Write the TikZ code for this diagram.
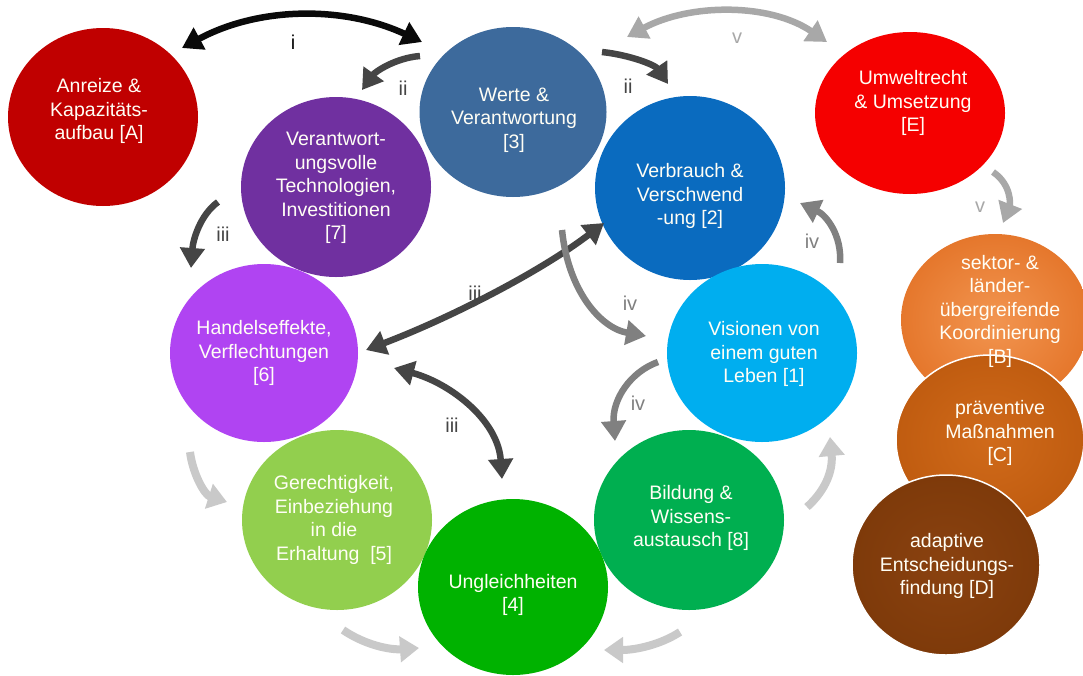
\documentclass[tikz,border=0pt]{standalone}
\usepackage{fontspec}
\setmainfont{Liberation Sans}
\usetikzlibrary{arrows.meta,shapes.geometric}
\definecolor{cA}{HTML}{C00000}
\definecolor{cThree}{HTML}{3D6A9C}
\definecolor{cSeven}{HTML}{7030A0}
\definecolor{cTwo}{HTML}{0A6BBF}
\definecolor{cE}{HTML}{F50000}
\definecolor{cSix}{HTML}{B044F2}
\definecolor{cOne}{HTML}{00AEEF}
\definecolor{cFive}{HTML}{92CF4E}
\definecolor{cFour}{HTML}{00B200}
\definecolor{cEight}{HTML}{00AF50}
\definecolor{cBin}{HTML}{F29550}
\definecolor{cBout}{HTML}{E5772C}
\definecolor{cCin}{HTML}{D06A1A}
\definecolor{cCout}{HTML}{C05C10}
\definecolor{cDin}{HTML}{8A4210}
\definecolor{cDout}{HTML}{7E3A0A}
\definecolor{aBlack}{HTML}{0A0A0A}
\definecolor{aDark}{HTML}{454545}
\definecolor{aMid}{HTML}{808080}
\definecolor{aLight}{HTML}{A8A8A8}
\definecolor{aPale}{HTML}{C9C9C9}
\begin{document}
\begin{tikzpicture}[x=1pt,y=-1pt,
  bub/.style={ellipse, inner sep=0pt, minimum width=190pt, minimum height=178pt},
  txt/.style={text=white!96!yellow, align=center, inner sep=0pt, font=\fontsize{19.5}{23.5}\selectfont},
  arr/.style={line width=6.5pt, -{Triangle[length=20pt,width=24pt]}},
  darr/.style={line width=6.5pt, {Triangle[length=20pt,width=24pt]}-{Triangle[length=20pt,width=24pt]}},
  parr/.style={line width=8pt, -{Triangle[length=19pt,width=25pt]}},
  lab/.style={font=\fontsize{20}{22}\selectfont}
]
\useasboundingbox[fill=white] (0,0) rectangle (1083,675);

% bubbles
\node[bub, fill=cA] (nA) at (103,117) {};
\node[bub, fill=cSeven, minimum height=180pt] (n7) at (336,187) {};
\node[bub, fill=cThree, minimum width=187pt, minimum height=170pt] (n3) at (513,112) {};
\node[bub, fill=cTwo, minimum height=184pt] (n2) at (690,188) {};
\node[bub, fill=cE, minimum height=162pt] (nE) at (910,113) {};
\node[bub, fill=cSix, minimum width=188pt] (n6) at (264,353) {};
\node[bub, fill=cOne] (n1) at (762,353) {};
\node[bub, fill=cFive, minimum height=180pt] (n5) at (337,520) {};
\node[bub, fill=cEight, minimum height=180pt] (n8) at (689,520) {};
\node[bub, fill=cFour, minimum height=176pt] (n4) at (513,587) {};
\node[bub, inner color=cBin, outer color=cBout, minimum width=188pt, minimum height=172pt] (nB) at (995,320) {};
\node[bub, inner color=cCin, outer color=cCout, minimum width=188pt, minimum height=170pt] (nC) at (990,440) {};
\draw[white, line width=1.5pt] (nC) ellipse (94pt and 85pt);
\node[bub, inner color=cDin, outer color=cDout, minimum width=188pt, minimum height=180pt] (nD) at (946,565) {};
\draw[white, line width=1.5pt] (nD) ellipse (94pt and 90pt);

% texts
\node[txt] (tA) at (99,111) {Anreize \&\\Kapazitäts-\\aufbau [A]};
\node[txt] (t7) at (336,188) {Verantwort-\\ungsvolle\\Technologien,\\Investitionen\\{[7]}};
\node[txt] (t3) at (514,120) {Werte \&\\Verantwortung\\{[3]}};
\node[txt] (t2) at (690,196) {Verbrauch \&\\Verschwend\\-ung [2]};
\node[txt] (tE) at (913,103) {Umweltrecht\\\& Umsetzung\\{[E]}};
\node[txt] (t6) at (264,353) {Handelseffekte,\\Verflechtungen\\{[6]}};
\node[txt] (t1) at (764,354) {Visionen von\\einem guten\\Leben [1]};
\node[txt] (t5) at (334,520) {Gerechtigkeit,\\Einbeziehung\\in die\\Erhaltung~~[5]};
\node[txt] (t8) at (691,518) {Bildung \&\\Wissens-\\austausch [8]};
\node[txt] (t4) at (513,595) {Ungleichheiten\\{[4]}};
\node[txt] (tB) at (1000,311) {sektor- \&\\länder-\\übergreifende\\Koordinierung\\{[B]}};
\node[txt] (tC) at (1000,433) {präventive\\Maßnahmen\\{[C]}};
\node[txt] (tD) at (947,566) {adaptive\\Entscheidungs-\\findung [D]};

% arrow end points
\coordinate (i1) at (182,48);  \coordinate (i2) at (422,42);
\coordinate (iiL1) at (420,56); \coordinate (iiL2) at (362,90);
\coordinate (iiR1) at (602,52); \coordinate (iiR2) at (668,84);
\coordinate (vT1) at (627,37);  \coordinate (vT2) at (827,42);
\coordinate (vR1) at (993,172); \coordinate (vR2) at (1003,223);
\coordinate (iiiA1) at (218,202); \coordinate (iiiA2) at (191,268);
\coordinate (iiiB1) at (366,350); \coordinate (iiiB2) at (604,223);
\coordinate (iiiC1) at (394,368); \coordinate (iiiC2) at (502,479);
\coordinate (ivA1) at (562,230); \coordinate (ivA2) at (646,336);
\coordinate (ivB1) at (840,263); \coordinate (ivB2) at (800,203);
\coordinate (ivC1) at (658,362); \coordinate (ivC2) at (615,441);
\coordinate (pA1) at (190,452); \coordinate (pA2) at (227,502);
\coordinate (pB1) at (343,630); \coordinate (pB2) at (419,648);
\coordinate (pC1) at (680,632); \coordinate (pC2) at (604,650);
\coordinate (pD1) at (807,507); \coordinate (pD2) at (830,437);

% arrows
\draw[darr, aBlack] (i1) .. controls (260,6) and (345,6) .. (i2);
\draw[arr, aDark] (iiL1) .. controls (395,58) and (375,72) .. (iiL2);
\draw[arr, aDark] (iiR1) .. controls (630,55) and (655,65) .. (iiR2);
\draw[darr, aLight] (vT1) .. controls (690,3) and (770,3) .. (vT2);
\draw[arr, aLight] (vR1) .. controls (1012,185) and (1010,205) .. (vR2);
\draw[arr, aDark] (iiiA1) .. controls (200,215) and (193,240) .. (iiiA2);
\draw[darr, aDark] (iiiB1) .. controls (450,318) and (540,272) .. (iiiB2);
\draw[darr, aDark] (iiiC1) .. controls (450,383) and (498,420) .. (iiiC2);
\draw[arr, aMid] (ivA1) .. controls (568,290) and (600,328) .. (ivA2);
\draw[arr, aMid] (ivB1) .. controls (842,235) and (826,215) .. (ivB2);
\draw[arr, aMid] (ivC1) .. controls (630,372) and (612,400) .. (ivC2);
\draw[parr, aPale] (pA1) .. controls (193,475) and (205,495) .. (pA2);
\draw[parr, aPale] (pB1) .. controls (365,645) and (390,650) .. (pB2);
\draw[parr, aPale] (pC1) .. controls (660,645) and (635,650) .. (pC2);
\draw[parr, aPale] (pD1) .. controls (826,490) and (833,470) .. (pD2);

% labels
\node[lab, text=aBlack] (li) at (293,42) {i};
\node[lab, text=aDark] (liiL) at (403,88) {ii};
\node[lab, text=aDark] (liiR) at (628,86) {ii};
\node[lab, text=aLight] (lvT) at (737,38) {v};
\node[lab, text=aLight] (lvR) at (980,207) {v};
\node[lab, text=aDark] (liiiA) at (223,234) {iii};
\node[lab, text=aDark] (liiiB) at (475,293) {iii};
\node[lab, text=aDark] (liiiC) at (452,425) {iii};
\node[lab, text=aMid] (livA) at (630,303) {iv};
\node[lab, text=aMid] (livB) at (812,241) {iv};
\node[lab, text=aMid] (livC) at (638,403) {iv};
\end{tikzpicture}
\end{document}
